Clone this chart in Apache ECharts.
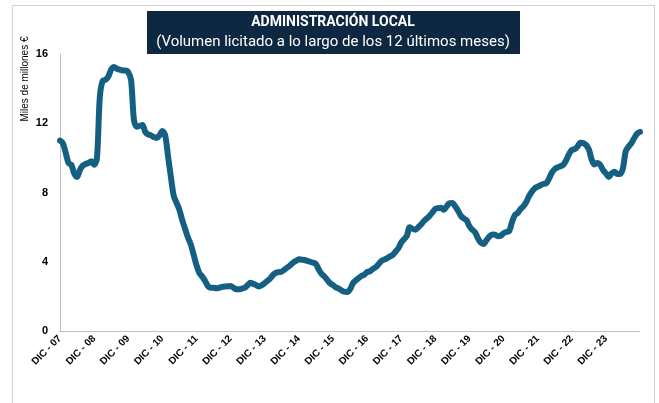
<!DOCTYPE html>
<html>
<head>
<meta charset="utf-8">
<script src="https://cdn.jsdelivr.net/npm/echarts@6/dist/echarts.min.js"></script>
<style>
html,body{margin:0;padding:0;background:#fff;}
#chart{width:659px;height:403px;}
</style>
</head>
<body>
<div id="chart"></div>
<script>
const titleLine1 = "ADMINISTRACIÓN LOCAL";
const titleLine2 = "(Volumen licitado a lo largo de los 12 últimos meses)";
const yAxisTitle = "Miles de millones €";
const monthNames = ["ENE","FEB","MAR","ABR","MAY","JUN","JUL","AGO","SEP","OCT","NOV","DIC"];
const startYear = 2007, startMonth = 11; // DIC 2007
const yTicks = [0, 4, 8, 12, 16];
const lastLabelledYear = 23;

const values = [
 11.0,10.85,10.3,9.7,9.6,9.1,8.9,9.3,9.55,9.65,9.7,9.8,
 9.6,10.0,13.5,14.45,14.5,14.7,15.1,15.25,15.15,15.1,15.05,15.05,
 14.95,14.5,12.2,11.8,11.85,11.9,11.5,11.35,11.3,11.2,11.15,11.3,
 11.55,11.3,10.1,8.9,7.8,7.4,7.0,6.4,5.9,5.4,5.0,4.4,
 3.8,3.35,3.15,2.9,2.6,2.5,2.5,2.47,2.5,2.55,2.57,2.58,
 2.6,2.5,2.41,2.41,2.45,2.5,2.65,2.78,2.72,2.65,2.57,2.65,
 2.76,2.9,3.05,3.25,3.37,3.4,3.43,3.55,3.67,3.8,3.95,4.05,
 4.14,4.12,4.1,4.05,4.0,3.95,3.88,3.55,3.3,3.15,2.95,2.76,
 2.65,2.52,2.45,2.35,2.27,2.25,2.4,2.75,2.92,3.05,3.18,3.25,
 3.4,3.45,3.58,3.68,3.85,4.04,4.12,4.2,4.3,4.39,4.58,4.78,
 5.1,5.3,5.5,6.0,5.9,5.85,5.99,6.15,6.35,6.5,6.65,6.85,
 7.05,7.1,7.12,7.0,7.2,7.38,7.4,7.2,6.95,6.65,6.5,6.4,
 6.05,5.85,5.7,5.35,5.1,5.03,5.25,5.45,5.58,5.57,5.48,5.5,
 5.65,5.72,5.78,6.3,6.7,6.82,7.05,7.2,7.45,7.8,8.05,8.25,
 8.34,8.42,8.49,8.53,8.8,9.15,9.35,9.45,9.52,9.6,9.85,10.2,
 10.46,10.5,10.65,10.88,10.85,10.75,10.5,9.9,9.62,9.7,9.6,9.3,
 9.1,8.9,9.1,9.2,9.07,9.07,9.4,10.4,10.65,10.85,11.15,11.4,
 11.5
];

const categories = values.map((v, i) => {
  const m = (startMonth + i) % 12;
  const y = startYear + Math.floor((startMonth + i) / 12);
  return monthNames[m] + " - " + String(y % 100).padStart(2, "0");
});
const lastLabelIdx = (2000 + lastLabelledYear - startYear) * 12;

const chart = echarts.init(document.getElementById('chart'), null, {renderer: 'canvas'});
chart.setOption({
  animation: false,
  backgroundColor: '#ffffff',
  grid: {left: 60, right: 19, top: 54, bottom: 72, containLabel: false},
  xAxis: {
    type: 'category',
    data: categories,
    boundaryGap: false,
    axisLine: {show: true, lineStyle: {color: '#bfbfbf', width: 1}},
    axisTick: {show: false},
    splitLine: {show: false},
    axisLabel: {
      interval: (idx) => idx % 12 === 0 && idx <= lastLabelIdx,
      rotate: 45,
      margin: 6,
      color: '#000',
      fontFamily: 'Liberation Sans, Arial, sans-serif',
      fontWeight: 'bold',
      fontSize: 10
    }
  },
  yAxis: {
    type: 'value',
    min: yTicks[0],
    max: yTicks[yTicks.length - 1],
    interval: 4,
    axisLine: {show: true, lineStyle: {color: '#bfbfbf', width: 1}},
    axisTick: {show: false},
    splitLine: {show: false},
    axisLabel: {
      margin: 12,
      color: '#000',
      fontFamily: 'Liberation Sans, Arial, sans-serif',
      fontWeight: 'bold',
      fontSize: 11
    }
  },
  series: [{
    type: 'line',
    data: values,
    smooth: 0.3,
    showSymbol: false,
    lineStyle: {color: '#156082', width: 6, cap: 'round', join: 'round'},
    itemStyle: {color: '#156082'}
  }],
  graphic: [
    {type: 'rect', shape: {x: 12.5, y: 5.5, width: 642, height: 430}, style: {fill: 'none', stroke: '#d0d0d0', lineWidth: 1}, z: 0},
    {type: 'rect', shape: {x: 147, y: 11, width: 373, height: 43}, style: {fill: '#0E2841'}, z: 10},
    {type: 'text', x: 333, y: 22, z: 11, style: {text: titleLine1, fill: '#fff', font: 'bold 14px Roboto, sans-serif', textAlign: 'center', textVerticalAlign: 'middle'}},
    {type: 'text', x: 333, y: 42, z: 11, style: {text: titleLine2, fill: '#fff', font: '15px Roboto, sans-serif', textAlign: 'center', textVerticalAlign: 'middle'}},
    {type: 'text', x: 25, y: 79, rotation: Math.PI / 2, z: 11, style: {text: yAxisTitle, fill: '#000', font: '10px "Liberation Sans", Arial, sans-serif', textAlign: 'center', textVerticalAlign: 'middle'}}
  ]
});
</script>
</body>
</html>
